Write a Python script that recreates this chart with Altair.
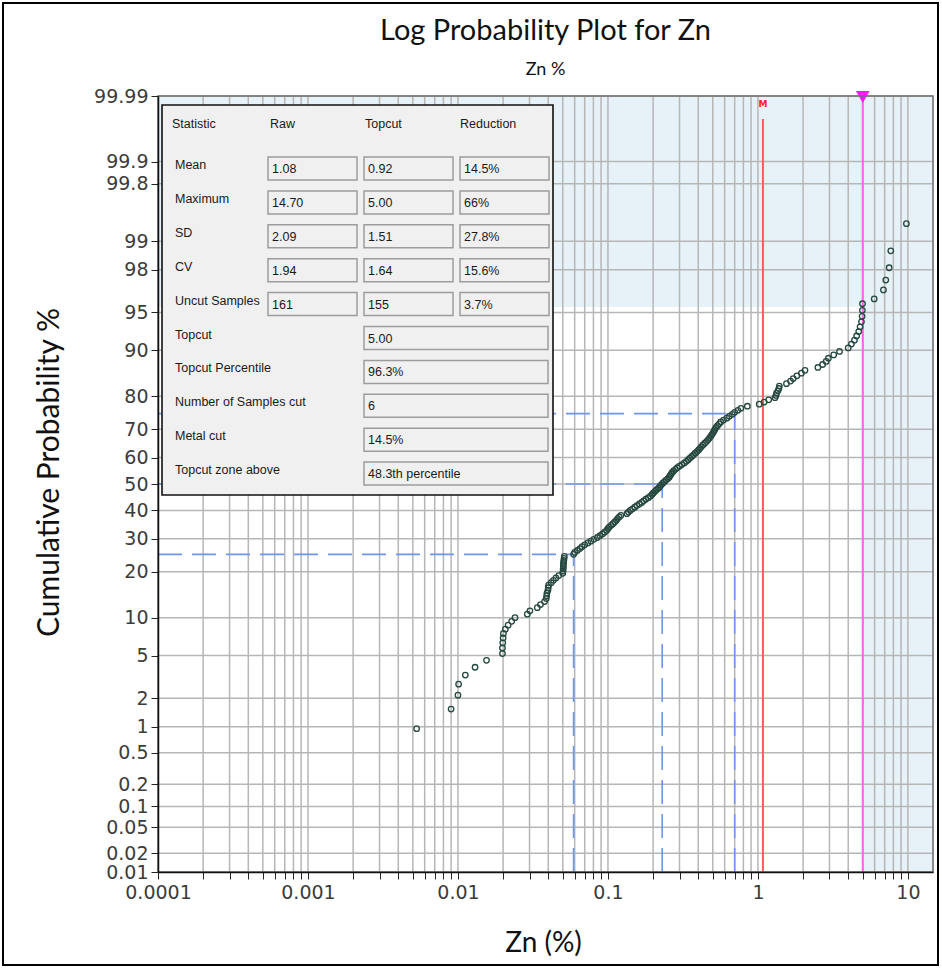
import altair as alt
import pandas as pd
from statistics import NormalDist

# ---------------------------------------------------------------------------
# Zn assays (%) sorted ascending, with their cumulative probability (%)
# ---------------------------------------------------------------------------
zn_pct = [
    0.0053, 0.0090, 0.0100, 0.0101, 0.0112, 0.0130, 0.0155,
    0.0198, 0.0198, 0.0199, 0.0200, 0.0201, 0.0207, 0.0216, 0.0228, 0.0240,
    0.0290, 0.0302, 0.0338, 0.0355, 0.0378, 0.0388, 0.0390, 0.0392, 0.0398,
    0.0400, 0.0402, 0.0418, 0.0433, 0.0450, 0.0470,
    0.0500, 0.0502, 0.0503, 0.0504, 0.0505, 0.0506, 0.0508, 0.0510, 0.0512,
    0.0590, 0.0600, 0.0625, 0.0650, 0.0672, 0.0700, 0.0735, 0.0770, 0.0805,
    0.0850, 0.0885, 0.0920, 0.0950, 0.0980, 0.1000, 0.1020, 0.1050, 0.1080,
    0.1110, 0.1140, 0.1160, 0.1190, 0.1220, 0.1340, 0.1370, 0.1410, 0.1460,
    0.1510, 0.1560, 0.1620, 0.1680, 0.1730, 0.1790, 0.1860, 0.1920, 0.1970,
    0.2010, 0.2060, 0.2110, 0.2170, 0.2220, 0.2260, 0.2310, 0.2370, 0.2430,
    0.2500, 0.2560, 0.2600, 0.2640, 0.2680, 0.2740, 0.2820, 0.2900, 0.3000,
    0.3110, 0.3230, 0.3340, 0.3430, 0.3520, 0.3620, 0.3720, 0.3820, 0.3920,
    0.4020, 0.4110, 0.4200, 0.4300, 0.4420, 0.4540, 0.4650, 0.4750, 0.4850,
    0.4940, 0.5020, 0.5100, 0.5160, 0.5260, 0.5380, 0.5520, 0.5650, 0.5900,
    0.6200, 0.6450, 0.6750, 0.7000, 0.7350, 0.7700, 0.8500, 1.0200, 1.1000,
    1.1800, 1.3000, 1.3200, 1.3300, 1.3600, 1.3800, 1.3900, 1.5500, 1.6500,
    1.7200, 1.8200, 1.9500, 2.0600, 2.5100, 2.7000, 2.8500, 2.9500, 3.2000,
    3.5000, 4.0000, 4.2000, 4.4000, 4.5500, 4.7000, 4.8000, 4.9000, 4.9500,
    4.9700, 4.9800, 5.9600, 6.8700, 7.1200, 7.5000, 7.6900, 9.7700,
]
cum_prob = [
    0.95, 1.55, 2.15, 2.75, 3.35, 3.95, 4.55,
    5.2, 5.8, 6.4, 7.0, 7.6, 8.2, 8.8, 9.4, 10.0,
    10.6, 11.2, 11.8, 12.4, 13.0, 13.6, 14.2, 14.8, 15.4,
    16.0, 16.6, 17.2, 17.8, 18.4, 19.0,
    19.6, 20.2, 20.8, 21.4, 22.0, 22.6, 23.2, 23.8, 24.4,
    25.0, 25.6, 26.2, 26.8, 27.4, 28.0, 28.6, 29.2, 29.8,
    30.4, 31.0, 31.6, 32.2, 32.8, 33.4, 34.0, 34.6, 35.2,
    35.8, 36.4, 37.0, 37.6, 38.2, 38.8, 39.4, 40.0, 40.6,
    41.2, 41.8, 42.4, 43.0, 43.6, 44.2, 44.8, 45.4, 46.0,
    46.6, 47.2, 47.8, 48.4, 49.0, 49.6, 50.2, 50.8, 51.4,
    52.0, 52.6, 53.2, 53.8, 54.4, 55.0, 55.6, 56.2, 56.8,
    57.4, 58.0, 58.6, 59.2, 59.8, 60.4, 61.0, 61.6, 62.2,
    62.8, 63.4, 64.0, 64.6, 65.2, 65.8, 66.4, 67.0, 67.6,
    68.2, 68.8, 69.4, 70.0, 70.6, 71.2, 71.8, 72.4, 73.0,
    73.6, 74.2, 74.8, 75.4, 76.0, 76.6, 77.2, 77.8, 78.4,
    79.0, 79.6, 80.2, 80.8, 81.4, 82.0, 82.6, 83.2, 83.8,
    84.4, 85.0, 85.6, 86.2, 86.8, 87.4, 88.0, 88.6, 89.2,
    89.8, 90.4, 91.0, 91.6, 92.2, 92.8, 93.4, 94.0, 94.6,
    95.2, 95.8, 96.2, 96.86, 97.47, 98.09, 98.73, 99.37,
]

# axis ticks
prob_ticks = [0.01, 0.02, 0.05, 0.1, 0.2, 0.5, 1, 2, 5, 10, 20, 30, 40, 50,
              60, 70, 80, 90, 95, 98, 99, 99.8, 99.9, 99.99]
x_decades = [0.0001, 0.001, 0.01, 0.1, 1, 10]
x_decade_labels = ["0.0001", "0.001", "0.01", "0.1", "1", "10"]
x_min, x_max = 0.0001, 14.7

# reference lines / zones
mean_raw = 1.08
topcut_value = 5.0
topcut_zone_prob = 95.5
quartile_prob = [25, 50, 75]
quartile_value = [0.059, 0.23, 0.70]

# titles
chart_title = "Log Probability Plot for Zn"
chart_subtitle = "Zn %"

# statistics table
table_header = ["Statistic", "Raw", "Topcut", "Reduction"]
stat_names = ["Mean", "Maximum", "SD", "CV", "Uncut Samples"]
raw_vals = ["1.08", "14.70", "2.09", "1.94", "161"]
topcut_vals = ["0.92", "5.00", "1.51", "1.64", "155"]
reduction_vals = ["14.5%", "66%", "27.8%", "15.6%", "3.7%"]
summary_names = ["Topcut", "Topcut Percentile", "Number of Samples cut",
                 "Metal cut", "Topcut zone above"]
summary_vals = ["5.00", "96.3%", "6", "14.5%", "48.3th percentile"]

# ---------------------------------------------------------------------------
normal = NormalDist()


def to_z(p):
    """Probability (%) -> standard normal quantile (probability-paper axis)."""
    return normal.inv_cdf(p / 100.0)


W, H = 775, 776
z_lo, z_hi = to_z(prob_ticks[0]), to_z(prob_ticks[-1])
z_ticks = [to_z(p) for p in prob_ticks]
x_grid = [m * d for d in x_decades for m in range(1, 10) if m * d <= x_max]

y_label_expr = " : ".join(
    f"abs(datum.value - ({z!r})) < 1e-6 ? '{p:g}'" for z, p in zip(z_ticks, prob_ticks)
) + " : ''"
x_label_expr = " : ".join(
    f"abs(datum.value - {d!r}) < {d * 1e-6!r} ? '{lab}'" for d, lab in zip(x_decades, x_decade_labels)
) + " : ''"

xscale = alt.Scale(type="log", domain=[x_min, x_max], nice=False)
yscale = alt.Scale(domain=[z_lo, z_hi], nice=False, zero=False)

GRID = "#b6b6b6"
LABEL_FONT = "DejaVu Sans"
TITLE_FONT = "Lato"

x_axis = alt.Axis(
    values=x_grid, labelExpr=x_label_expr, title="Zn (%)", grid=False,
    tickSize=7, tickColor="#222", tickWidth=1, domainColor="#111", domainWidth=1.5,
    labelFont=LABEL_FONT, labelFontSize=19, labelColor="#3c3c3c", labelPadding=4,
    labelOverlap=False, labelFlush=False, titleFont=TITLE_FONT, titleFontSize=28,
    titleFontWeight="normal", titleColor="#111", titleX=385, titleY=71,
    titleBaseline="middle", titleAlign="center", zindex=1)
y_axis = alt.Axis(
    values=z_ticks, labelExpr=y_label_expr, title="Cumulative Probability %",
    grid=False, tickSize=7, tickColor="#222", tickWidth=1, domainColor="#111",
    domainWidth=1.5, labelFont=LABEL_FONT, labelFontSize=19, labelColor="#3c3c3c",
    labelPadding=3, labelOverlap=False, labelFlush=False, titleFont=TITLE_FONT,
    titleFontSize=30, titleFontWeight="normal", titleColor="#111",
    titleX=-109, titleY=376, titleAngle=270, titleBaseline="middle",
    titleAlign="center", zindex=1)


def X(field, **kw):
    return alt.X(field, type="quantitative", scale=xscale, axis=x_axis, **kw)


def Y(field, **kw):
    return alt.Y(field, type="quantitative", scale=yscale, axis=y_axis, **kw)


one_row = pd.DataFrame({"k": [0]})

# shaded topcut zones (upper percentile band and values above the topcut)
zones = pd.DataFrame({
    "x0": [x_min, topcut_value], "x1": [x_max, x_max],
    "z0": [to_z(topcut_zone_prob), z_lo], "z1": [z_hi, z_hi],
})
zone_layer = alt.Chart(zones).mark_rect(fill="#e6f2f8").encode(
    x=X("x0"), x2="x1", y=Y("z0"), y2="z1")

vgrid = alt.Chart(pd.DataFrame({"v": x_grid})).mark_rule(
    color=GRID, strokeWidth=1.5).encode(x=X("v"))
hgrid = alt.Chart(pd.DataFrame({"z": z_ticks})).mark_rule(
    color=GRID, strokeWidth=1.5).encode(y=Y("z"))

quart = pd.DataFrame({
    "x0": [x_min] * 3, "xq": quartile_value,
    "zq": [to_z(p) for p in quartile_prob], "zb": [z_lo] * 3,
})
dash = dict(color="#7096ec", strokeWidth=1.6, strokeDash=[24, 10])
quart_h = alt.Chart(quart).mark_rule(**dash).encode(x=X("x0"), x2="xq", y=Y("zq"))
quart_v = alt.Chart(quart).mark_rule(**dash).encode(x=X("xq"), y=Y("zb"), y2="zq")

mean_df = pd.DataFrame({"x": [mean_raw]})
mean_line = alt.Chart(mean_df).mark_rule(color="#ff5a5a", strokeWidth=2).encode(
    x=X("x"), y=alt.value(23), y2=alt.value(H))
mean_tag = alt.Chart(mean_df).mark_text(
    text="M", color="#ff2020", fontSize=9, fontWeight="bold", font="DejaVu Sans",
    baseline="middle").encode(x=X("x"), y=alt.value(8))

top_df = pd.DataFrame({"x": [topcut_value]})
topcut_line = alt.Chart(top_df).mark_rule(color="#f266f2", strokeWidth=2).encode(x=X("x"))
topcut_marker = alt.Chart(top_df).mark_point(
    shape="triangle-down", filled=True, size=190, color="#ff19ff", opacity=1).encode(
    x=X("x"), y=alt.value(1))

pts = pd.DataFrame({"zn": zn_pct, "z": [to_z(p) for p in cum_prob]})
points = alt.Chart(pts).mark_point(
    shape="circle", filled=False, size=30, strokeWidth=1.3, color="#25473f", opacity=1
).encode(x=X("zn"), y=Y("z"))

plot_frame = alt.Chart(one_row).mark_rect(
    fillOpacity=0, stroke="#6e6e6e", strokeWidth=1.5).encode(
    x=alt.value(0), x2=alt.value(W), y=alt.value(0), y2=alt.value(H))

# chart title and subtitle, centred over the plot area
titles = alt.Chart(pd.DataFrame({"text": [chart_title, chart_subtitle],
                                 "level": [0, 1]})).transform_calculate(
    px=f"{W / 2}", py="datum.level ? -26 : -65", fs="datum.level ? 18 : 29"
).mark_text(align="center", baseline="middle", font=TITLE_FONT, color="#111").encode(
    x=alt.X("px:Q", scale=None, axis=None), y=alt.Y("py:Q", scale=None, axis=None),
    text="text:N", size=alt.Size("fs:Q", scale=None, legend=None))

# ---------------------------------------------------------------------------
# statistics panel
# ---------------------------------------------------------------------------
PX = dict(scale=None, axis=None)
panel = alt.Chart(one_row).mark_rect(
    fill="#f0f0f0", stroke="#111", strokeWidth=1.6).encode(
    x=alt.value(4), x2=alt.value(395), y=alt.value(9), y2=alt.value(399))

header_df = pd.DataFrame({"text": table_header, "col": range(len(table_header))})
header = alt.Chart(header_df).transform_calculate(
    px="[14, 112, 207, 302][datum.col]", py="28"
).mark_text(align="left", baseline="middle", font="Liberation Sans", fontSize=12.5,
            color="#1a1a1a").encode(
    x=alt.X("px:Q", **PX), y=alt.Y("py:Q", **PX), text="text:N")

row_names = stat_names + summary_names
names_df = pd.DataFrame({"text": row_names, "row": range(len(row_names))})
names = alt.Chart(names_df).transform_calculate(
    px="17", py="61 + 33.9 * datum.row + 8"
).mark_text(align="left", baseline="middle", font="Liberation Sans", fontSize=12.5,
            color="#1a1a1a").encode(
    x=alt.X("px:Q", **PX), y=alt.Y("py:Q", **PX), text="text:N")

cell_rows = []
for r, vals in enumerate(zip(raw_vals, topcut_vals, reduction_vals)):
    for c, v in enumerate(vals):
        cell_rows.append({"row": r, "col": c, "wide": 0, "text": v})
for r, v in enumerate(summary_vals):
    cell_rows.append({"row": len(stat_names) + r, "col": 1, "wide": 1, "text": v})
cells_df = pd.DataFrame(cell_rows)

cells_base = alt.Chart(cells_df).transform_calculate(
    x0="[110, 206, 302][datum.col]",
    x1="datum.wide ? 390 : datum.x0 + 89",
    y0="61 + 33.9 * datum.row",
    y1="datum.y0 + 23",
    tx="datum.x0 + 4",
    ty="datum.y0 + 12",
)
cell_boxes = cells_base.mark_rect(fill="#f0f0f0", stroke="#9c9c9c", strokeWidth=1.5).encode(
    x=alt.X("x0:Q", **PX), x2="x1:Q", y=alt.Y("y0:Q", **PX), y2="y1:Q")
cell_text = cells_base.mark_text(
    align="left", baseline="middle", font="Liberation Sans", fontSize=12.5,
    color="#1a1a1a").encode(
    x=alt.X("tx:Q", **PX), y=alt.Y("ty:Q", **PX), text="text:N")

outer_frame = alt.Chart(one_row).mark_rect(
    fillOpacity=0, stroke="#000", strokeWidth=2).encode(
    x=alt.value(-155), x2=alt.value(780), y=alt.value(-93), y2=alt.value(869))

chart = alt.layer(
    zone_layer, vgrid, hgrid, quart_h, quart_v, mean_line, topcut_line,
    points, mean_tag, topcut_marker, plot_frame,
    panel, header, names, cell_boxes, cell_text, titles, outer_frame,
).properties(
    width=W, height=H,
    autosize=alt.AutoSizeParams(type="none"),
    padding={"left": 158, "top": 96, "right": 9, "bottom": 96},
).configure_view(stroke=None).configure(background="white")

chart.save("out.html", embed_options={"renderer": "svg", "actions": False})
